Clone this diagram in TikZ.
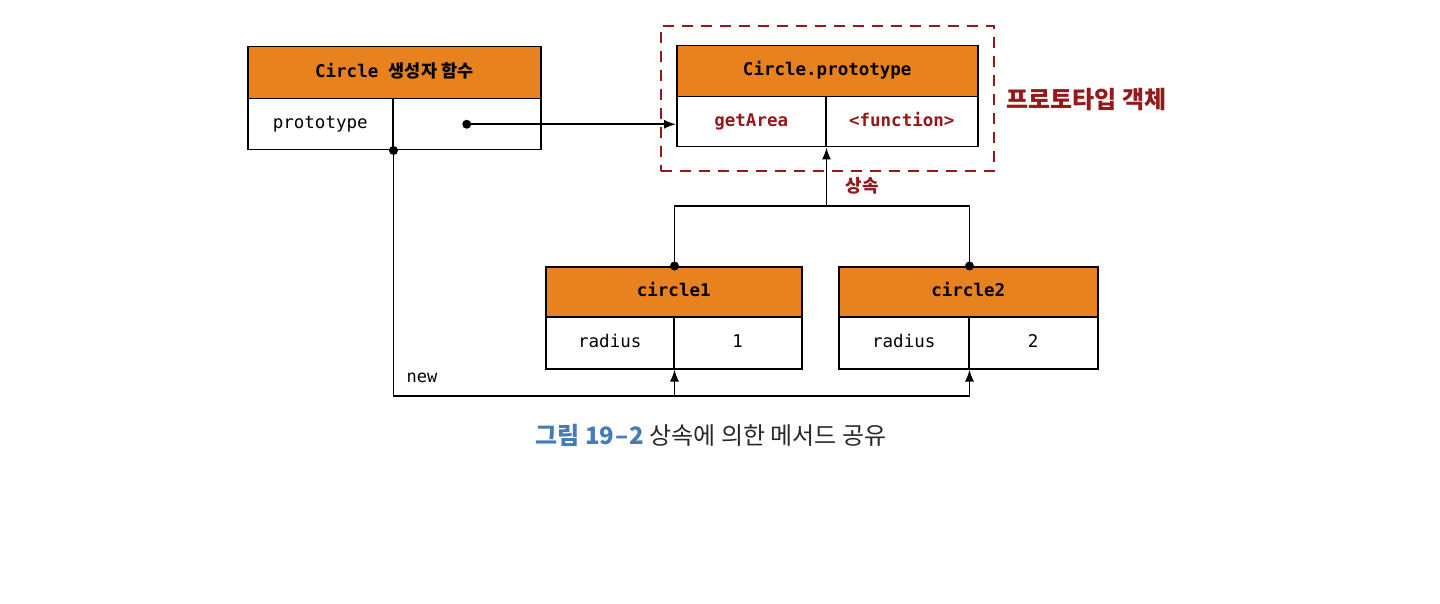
\documentclass[tikz,border=0pt]{standalone}
\usepackage{fontspec}
\setmonofont{DejaVu Sans Mono}
\newfontfamily\kr{Noto Sans CJK KR}
\usetikzlibrary{arrows.meta}
\definecolor{hdrorange}{RGB}{232,130,30}
\definecolor{darkred}{RGB}{150,25,25}
\definecolor{capblue}{RGB}{70,125,185}
\definecolor{capgray}{RGB}{40,40,40}
\begin{document}
\begin{tikzpicture}[x=1pt,y=-1pt,
 box/.style={draw=black, line width=1.5pt, inner sep=0pt, anchor=north west, text height=12pt, text depth=3pt, font=\ttfamily\fontsize{17.5}{20}\selectfont},
 hdr/.style={box, fill=hdrorange, font=\ttfamily\bfseries\fontsize{17.5}{20}\selectfont},
 cell/.style={box, fill=white},
 redtxt/.style={text=darkred, font=\ttfamily\bfseries\fontsize{17.5}{20}\selectfont},
 link/.style={line width=1.5pt},
 arr/.style={link, -{Latex[length=12pt,width=9pt]}},
 dot/.style={circle, fill=black, inner sep=0pt, minimum size=9pt},
 frame/.style={draw=darkred, line width=2.2pt, dash pattern=on 11pt off 8pt, anchor=north west, inner sep=0pt},
]
\useasboundingbox (0,0) rectangle (1440,604);

% dashed prototype frame
\node[frame, minimum width=333pt, minimum height=145pt] (pframe) at (660,25) {};

% Circle constructor
\node[hdr, minimum width=293pt, minimum height=52pt] (ch) at (247,46) {Circle {\kr\bfseries 생성자 함수}};
\node[cell, minimum width=145pt, minimum height=51pt] (ck) at (247,98) {prototype};
\node[cell, minimum width=148pt, minimum height=51pt] (cv) at (392,98) {};

% Circle.prototype
\node[hdr, minimum width=301pt, minimum height=51pt] (ph) at (676,45) {Circle.prototype};
\node[cell, minimum width=149pt, minimum height=50pt, redtxt] (pk) at (676,96) {getArea};
\node[cell, minimum width=152pt, minimum height=50pt, redtxt] (pv) at (825,96) {<function>};

% circle1
\node[hdr, minimum width=256pt, minimum height=50pt] (c1h) at (545,266) {circle1};
\node[cell, minimum width=128pt, minimum height=52pt] (c1k) at (545,316) {radius};
\node[cell, minimum width=128pt, minimum height=52pt] (c1v) at (673,316) {1};

% circle2
\node[hdr, minimum width=259pt, minimum height=50pt] (c2h) at (838,266) {circle2};
\node[cell, minimum width=130pt, minimum height=52pt] (c2k) at (838,316) {radius};
\node[cell, minimum width=129pt, minimum height=52pt] (c2v) at (968,316) {2};

% labels
\node[text=darkred, font=\kr\bfseries\fontsize{24}{28}\selectfont, anchor=west] (plabel) at (1003,100) {프로토타입 객체};
\node[text=darkred, font=\kr\bfseries\fontsize{18}{22}\selectfont] (inhlabel) at (862,186) {상속};
\node[font=\ttfamily\fontsize{17}{20}\selectfont] (newlabel) at (422,378) {new};
\node[font=\kr\fontsize{24}{28}\selectfont, text=capgray] (caption) at (711,435) {{\color{capblue}\bfseries 그림 19\kern1pt–\kern1pt2} 상속에 의한 메서드 공유};

\coordinate (bus) at (0,396);
\coordinate (inh) at (0,206);

% prototype pointer
\draw[arr] (cv.center) -- (cv.center -| pk.west);
\node[dot] (d1) at (cv.center) {};

% new
\draw[link] (ck.south east) -- (ck.south east |- bus) -- (c2k.south east |- bus);
\draw[arr] (c1k.south east |- bus) -- (c1k.south east);
\draw[arr] (c2k.south east |- bus) -- (c2k.south east);
\node[dot] (d2) at (ck.south east) {};

% inheritance
\coordinate (t1) at (c1h.north -| c1k.east);
\coordinate (t2) at (c2h.north -| c2k.east);
\draw[link] (t1) -- (t1 |- inh) -- (t2 |- inh) -- (t2);
\draw[arr] (pk.south east |- inh) -- (pk.south east);
\node[dot] (d3) at (t1) {};
\node[dot] (d4) at (t2) {};
\end{tikzpicture}
\end{document}
